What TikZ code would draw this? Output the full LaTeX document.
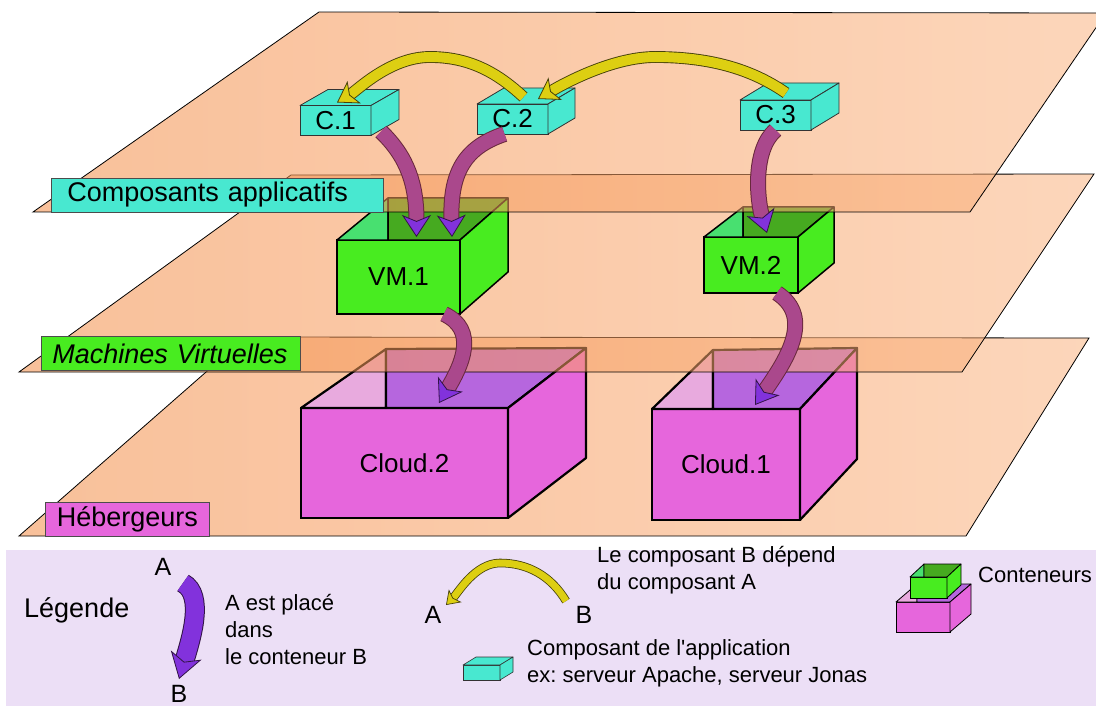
\documentclass[tikz,border=0pt]{standalone}
\usepackage{fontspec}
\setmainfont{Liberation Sans}
\usetikzlibrary{arrows.meta,calc}
\frenchspacing

\definecolor{planeL}{RGB}{243,140,70}
\definecolor{planeR}{RGB}{250,180,130}
\definecolor{comp}{RGB}{72,232,208}
\definecolor{vmgreen}{RGB}{72,236,32}
\definecolor{vmwall}{RGB}{72,224,112}
\definecolor{vmback}{RGB}{70,170,32}
\definecolor{host}{RGB}{230,102,220}
\definecolor{hostwall}{RGB}{232,170,222}
\definecolor{hostback}{RGB}{182,102,222}
\definecolor{shaftpurple}{RGB}{170,72,140}
\definecolor{shaftline}{RGB}{105,40,60}
\definecolor{headpurple}{RGB}{130,50,220}
\definecolor{headline}{RGB}{50,20,70}
\definecolor{depyellow}{RGB}{221,207,18}
\definecolor{depline}{RGB}{70,65,10}
\definecolor{legendbg}{RGB}{236,223,246}

\begin{document}
\begin{tikzpicture}[x=1pt,y=-1pt,
    plane/.style={left color=planeL,right color=planeR,fill opacity=0.55,draw=black,line width=0.8pt},
    compbox/.style={draw=black!80,line width=0.8pt,fill=comp,inner sep=0pt,outer sep=0pt,
      minimum width=71pt,minimum height=30pt,font=\fontsize{26}{30}\selectfont},
    compside/.style={draw=black!80,line width=0.8pt,fill=comp,line join=round},
    vmbox/.style={draw=black,line width=1.5pt,fill=vmgreen,inner sep=0pt,outer sep=0pt,
      font=\fontsize{26}{30}\selectfont},
    vmside/.style={draw=black,line width=1.5pt,line join=round},
    hostbox/.style={draw=black,line width=2.2pt,fill=host,inner sep=0pt,outer sep=0pt,
      font=\fontsize{26}{30}\selectfont},
    hostside/.style={draw=black,line width=2.2pt,line join=round},
    layer/.style={draw=black!70,line width=0.8pt,anchor=west,inner ysep=0pt,align=left,
      minimum height=34pt,font=\fontsize{27}{32}\selectfont},
    placearrow/.style={draw=shaftline,line width=1pt,double=shaftpurple,double distance=14pt,
      -{Stealth[length=22pt,width=29pt,inset=6pt,line width=0.8pt,color=headline,fill=headpurple]}},
    deparrow/.style={draw=depline,line width=0.9pt,double=depyellow,double distance=10pt,
      -{Stealth[length=20pt,width=26pt,inset=5pt,line width=0.8pt,color=depline,fill=depyellow]}},
    legtext/.style={anchor=west,align=left,inner sep=0pt,font=\fontsize{22}{27}\selectfont},
    letter/.style={inner sep=0pt,font=\fontsize{25}{30}\selectfont}
  ]
  \useasboundingbox (0,0) rectangle (1096,706);

  % hebergeurs
  \path[plane] (246,337) -- (1089,338) -- (966,536) -- (19,536) -- cycle;

  \node[hostbox,minimum width=207pt,minimum height=110pt] (cl2) at (404.5,463) {Cloud.2};
  \coordinate (cl2bl) at (386,349);
  \coordinate (cl2br) at (586,348);
  \draw[hostside,fill=hostwall] (cl2.north west) -- (cl2bl) -- (cl2bl |- cl2.north) -- cycle;
  \draw[hostside,fill=hostback] (cl2bl) -- (cl2br) -- (cl2.north east) -- (cl2bl |- cl2.north) -- cycle;
  \draw[hostside,fill=host] (cl2.north east) -- (cl2br) -- ++(0,110) -- (cl2.south east) -- cycle;

  \node[hostbox,minimum width=148pt,minimum height=111pt] (cl1) at (726,464.5) {Cloud.1};
  \coordinate (cl1bl) at (713,350);
  \coordinate (cl1br) at (857,348);
  \draw[hostside,fill=hostwall] (cl1.north west) -- (cl1bl) -- (cl1bl |- cl1.north) -- cycle;
  \draw[hostside,fill=hostback] (cl1bl) -- (cl1br) -- (cl1.north east) -- (cl1bl |- cl1.north) -- cycle;
  \draw[hostside,fill=host] (cl1.north east) -- (cl1br) -- ++(0,111) -- (cl1.south east) -- cycle;

  % machines virtuelles
  \path[plane] (291,175) -- (1094,174) -- (962,372) -- (19,372) -- cycle;

  \node[vmbox,minimum width=123pt,minimum height=74pt] (vm1) at (398.5,277) {VM.1};
  \coordinate (vm1bl) at (388,198);
  \coordinate (vm1br) at (508,198);
  \draw[vmside,fill=vmwall] (vm1.north west) -- (vm1bl) -- (vm1bl |- vm1.north) -- cycle;
  \draw[vmside,fill=vmback] (vm1bl) -- (vm1br) -- (vm1.north east) -- (vm1bl |- vm1.north) -- cycle;
  \draw[vmside,fill=vmgreen] (vm1.north east) -- (vm1br) -- ++(0,74) -- (vm1.south east) -- cycle;

  \node[vmbox,minimum width=94pt,minimum height=56pt] (vm2) at (751,265) {VM.2};
  \coordinate (vm2bl) at (743,207);
  \coordinate (vm2br) at (834,207);
  \draw[vmside,fill=vmwall] (vm2.north west) -- (vm2bl) -- (vm2bl |- vm2.north) -- cycle;
  \draw[vmside,fill=vmback] (vm2bl) -- (vm2br) -- (vm2.north east) -- (vm2bl |- vm2.north) -- cycle;
  \draw[vmside,fill=vmgreen] (vm2.north east) -- (vm2br) -- ++(0,56) -- (vm2.south east) -- cycle;

  % composants applicatifs
  \path[plane] (319,12) -- (1106,13) -- (970,212) -- (33,212) -- cycle;

  \node[compbox] (c1) at (335.5,120.5) {C.1};
  \draw[compside] (c1.north west) -- ++(28,-16) -- ++(71,0) -- (c1.north east) -- cycle;
  \draw[compside] (c1.north east) -- ++(28,-16) -- ++(0,30) -- (c1.south east) -- cycle;
  \node[compbox] (c2) at (512.5,119) {C.2};
  \draw[compside] (c2.north west) -- ++(27,-16) -- ++(71,0) -- (c2.north east) -- cycle;
  \draw[compside] (c2.north east) -- ++(27,-16) -- ++(0,30) -- (c2.south east) -- cycle;
  \node[compbox] (c3) at (775.5,115) {C.3};
  \draw[compside] (c3.north west) -- ++(28,-17) -- ++(71,0) -- (c3.north east) -- cycle;
  \draw[compside] (c3.north east) -- ++(28,-17) -- ++(0,30) -- (c3.south east) -- cycle;

  \node[layer,fill=comp,text width=300pt,inner xsep=16pt] (lcomp) at (51,195) {Composants applicatifs};
  \node[layer,fill=vmgreen,text width=237pt,inner xsep=11pt] (lvm) at (41,353.5) {\itshape Machines Virtuelles};
  \node[layer,fill=host,text width=141pt,inner xsep=11.5pt] (lhost) at (45,519) {Hébergeurs};

  \draw[placearrow] ($(c1.south east)+(10,-4)$) .. controls +(27,26) and +(0,-52) .. ($(vm1.north)+(18,-3)$);
  \draw[placearrow] ($(c2.south)+(-8,0)$) .. controls +(-42,14) and +(-2,-62) .. ($(vm1.north)+(53.5,-3)$);
  \draw[placearrow] (c3.south) .. controls +(-23,20) and +(-10,-33) .. ($(vm2.north)+(16,-4)$);
  \draw[placearrow] ($(vm1.south)+(45.5,0)$) .. controls +(34,16) and +(23,-38) .. ($(cl2.north)+(34.5,-5)$);
  \draw[placearrow] ($(vm2.south)+(26,0)$) .. controls +(38,25) and +(30,-43) .. ($(cl1.north)+(29,-4)$);

  \draw[deparrow] ($(c2.north)+(11,-7)$) .. controls +(-30,-28) and +(35,0) .. (430,57)
    .. controls +(-40,0) and +(20,-12) .. ($(c1.north)+(1.5,-3)$);
  \draw[deparrow] ($(c3.north)+(10.5,-7)$) .. controls +(-40,-28) and +(45,0) .. (655,57)
    .. controls +(-45,0) and +(20,-12) .. ($(c2.north east)+(-10,-5)$);

  % legende
  \fill[legendbg] (6,550) rectangle (1096,706);
  \node[anchor=west,inner sep=0pt,font=\fontsize{27}{32}\selectfont] (leg) at (24,610) {Légende};

  \node[letter] (plA) at (163,567) {A};
  \node[letter] (plB) at (179,694) {B};
  \draw[draw=headline,line width=1pt,double=headpurple,double distance=18pt,
    -{Stealth[length=25pt,width=32pt,inset=7pt,line width=0.8pt,color=headline,fill=headpurple]}]
    ($(plA)+(20,16)$) .. controls +(22,12) and +(12,-40) .. ($(plB)+(0,-15)$);
  \node[legtext] (plText) at (225,629.5) {A est placé\\dans\\le conteneur B};

  \node[letter] (ydA) at (433,615) {A};
  \node[letter] (ydB) at (584,615) {B};
  \draw[draw=depline,line width=0.8pt,double=depyellow,double distance=7pt,
    -{Stealth[length=13pt,width=18pt,inset=3pt,line width=0.7pt,color=depline,fill=depyellow]}]
    ($(ydB)+(-18,-14)$) .. controls +(-15,-25) and +(28,0) .. (500,563)
    .. controls +(-25,0) and +(12,-12) .. ($(ydA)+(13,-10)$);
  \node[legtext] (ydText) at (597,570) {Le composant B dépend\\du composant A};

  \node[compbox,minimum width=37pt,minimum height=15pt,line width=0.6pt] (licomp) at (481.5,672.5) {};
  \draw[compside,line width=0.6pt] (licomp.north west) -- ++(13,-8) -- ++(37,0) -- (licomp.north east) -- cycle;
  \draw[compside,line width=0.6pt] (licomp.north east) -- ++(13,-8) -- ++(0,15) -- (licomp.south east) -- cycle;
  \node[legtext] (liText) at (527,663.5) {Composant de l\textquotesingle application\\ex: serveur Apache, serveur Jonas};

  \node[hostbox,minimum width=54pt,minimum height=30pt,line width=0.8pt] (lihost) at (923,617) {};
  \draw[hostside,line width=0.8pt,fill=hostwall] (lihost.north west) -- (917,584) -- (917,602) -- cycle;
  \draw[hostside,line width=0.8pt,fill=hostback] (917,584) -- (971,584) -- (lihost.north east) -- (917,602) -- cycle;
  \draw[hostside,line width=0.8pt,fill=host] (lihost.north east) -- (971,584) -- ++(0,30) -- (lihost.south east) -- cycle;
  \node[vmbox,minimum width=37pt,minimum height=21pt,line width=0.8pt] (livm) at (928.5,587.5) {};
  \draw[vmside,line width=0.8pt,fill=vmwall] (livm.north west) -- (924,564) -- (924,577) -- cycle;
  \draw[vmside,line width=0.8pt,fill=vmback] (924,564) -- (961,564) -- (livm.north east) -- (924,577) -- cycle;
  \draw[vmside,line width=0.8pt,fill=vmgreen] (livm.north east) -- (961,564) -- ++(0,21) -- (livm.south east) -- cycle;
  \node[legtext] (liCont) at (978,575) {Conteneurs};
\end{tikzpicture}
\end{document}
